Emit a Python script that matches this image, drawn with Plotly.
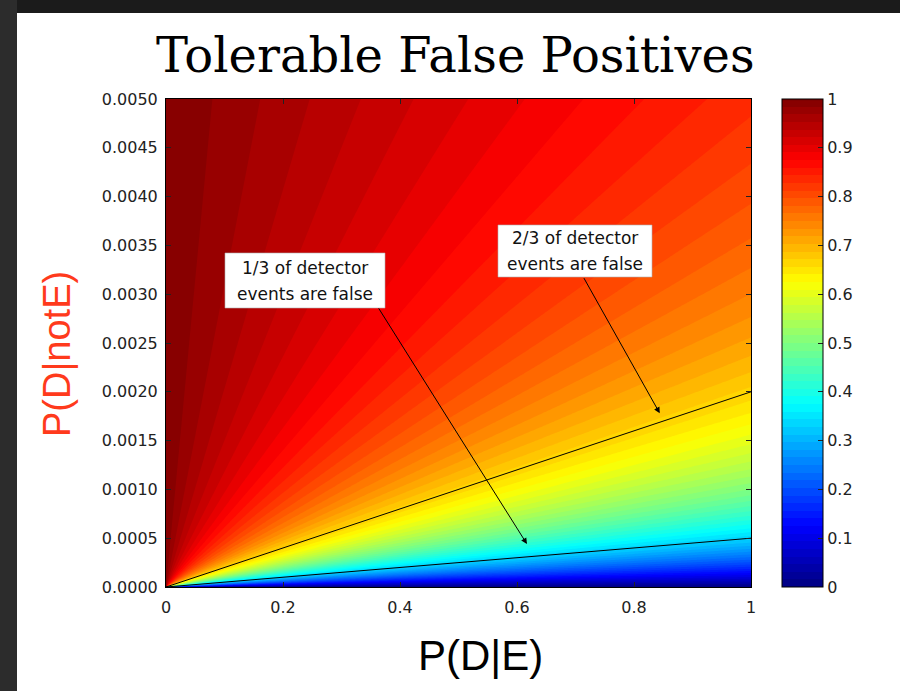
import numpy as np
import plotly.graph_objects as go

# ---- data ----
prior_E = [0.001]                       # prevalence implied by the 1/3 and 2/3 lines
x_ticks = [0, 0.2, 0.4, 0.6, 0.8, 1]
y_ticks = [0.0, 0.0005, 0.001, 0.0015, 0.002, 0.0025, 0.003, 0.0035, 0.004, 0.0045, 0.005]
cb_ticks = [0, 0.1, 0.2, 0.3, 0.4, 0.5, 0.6, 0.7, 0.8, 0.9, 1]
line_x = [0, 1]
line_two_thirds_y = [0, 0.002]
line_one_third_y = [0, 0.0005]
label_lines = [["1/3 of detector", "events are false"], ["2/3 of detector", "events are false"]]
arrow_tail = [(0.362, 0.00287), (0.713, 0.00318)]
arrow_tip = [(0.617, 0.00044), (0.844, 0.00178)]

# grid for the Bayes fraction of false detector events
pde = np.linspace(0, 1, 301)
pdn = np.linspace(0, 0.005, 301)
X, Y = np.meshgrid(pde, pdn)
p = prior_E[0]
num = Y * (1 - p)
den = num + X * p
Z = np.where(den > 0, num / np.where(den > 0, den, 1), 1.0)

jet = [[0, "#000080"], [0.125, "#0000ff"], [0.375, "#00ffff"],
       [0.625, "#ffff00"], [0.875, "#ff0000"], [1, "#800000"]]

TICKFONT = dict(family="DejaVu Sans", size=16, color="#222")

fig = go.Figure()
fig.add_trace(go.Contour(
    x=pde, y=pdn, z=Z, colorscale=jet, zmin=0, zmax=1,
    contours=dict(start=0, end=1, size=1 / 64, coloring="fill", showlines=False),
    line=dict(width=0),
    colorbar=dict(
        x=(782 - 166) / 585, xanchor="left", y=0.5, yanchor="middle", len=1,
        lenmode="fraction", thickness=41, thicknessmode="pixels", xpad=0, ypad=0,
        outlinecolor="black", outlinewidth=1,
        tickvals=cb_ticks, ticktext=[("%g" % v) for v in cb_ticks],
        ticks="inside", ticklen=5, tickcolor="#222",
        tickfont=TICKFONT,
    ),
    hoverinfo="skip",
))
fig.add_trace(go.Scatter(x=line_x, y=line_two_thirds_y, mode="lines",
                         line=dict(color="black", width=1), showlegend=False))
fig.add_trace(go.Scatter(x=line_x, y=line_one_third_y, mode="lines",
                         line=dict(color="black", width=1), showlegend=False))

W, H = 900, 691
L, R, T, B = 166, 751, 99, 587


def px2x(px):
    return (px - L) / (R - L)


def py2y(py):
    return (B - py) / (B - T)


def dx(px):
    return (px - L) / (R - L) * 1.0


def dy(py):
    return (B - py) / (B - T) * 0.005


shapes = [
    # dark slide frame
    dict(type="rect", xref="paper", yref="paper", x0=px2x(0), x1=px2x(W), y0=py2y(13), y1=py2y(0),
         fillcolor="#1b1b1b", line=dict(width=0), layer="above"),
    dict(type="rect", xref="paper", yref="paper", x0=px2x(0), x1=px2x(17), y0=py2y(H), y1=py2y(0),
         fillcolor="#2c2c2c", line=dict(width=0), layer="above"),
    # label boxes
    dict(type="rect", xref="x", yref="y", x0=dx(225), x1=dx(385), y0=dy(308), y1=dy(253),
         fillcolor="white", line=dict(width=0.6, color="#b0b0b0"), layer="above"),
    dict(type="rect", xref="x", yref="y", x0=dx(498), x1=dx(652), y0=dy(277), y1=dy(225),
         fillcolor="white", line=dict(width=0.6, color="#b0b0b0"), layer="above"),
]
# colorbar ticks on its left edge (MATLAB style both-side ticks)
for v in cb_ticks[1:-1]:
    shapes.append(dict(type="line", xref="paper", yref="paper", x0=px2x(782), x1=px2x(787),
                       y0=v, y1=v, line=dict(color="#222", width=1), layer="above"))

annotations = []
box_centers = [(305, (268, 294)), (575, (238, 264))]
for (cx, ys), lines in zip(box_centers, label_lines):
    for yy, t in zip(ys, lines):
        annotations.append(dict(x=dx(cx), y=dy(yy), xref="x", yref="y", text=t, showarrow=False,
                                font=dict(family="DejaVu Sans", size=17, color="#111"),
                                xanchor="center", yanchor="middle"))
for (tx, ty), (hx, hy) in zip(arrow_tail, arrow_tip):
    annotations.append(dict(x=hx, y=hy, ax=tx, ay=ty, xref="x", yref="y", axref="x", ayref="y",
                            text="", showarrow=True, arrowhead=2, arrowsize=1.2, arrowwidth=1,
                            arrowcolor="black"))
annotations += [
    dict(x=px2x(455), y=py2y(55), xref="paper", yref="paper", text="Tolerable False Positives",
         showarrow=False, xanchor="center", yanchor="middle",
         font=dict(family="DejaVu Serif", size=48, color="black")),
    dict(x=px2x(57), y=py2y(354), xref="paper", yref="paper", text="P(D|notE)", textangle=-90,
         showarrow=False, xanchor="center", yanchor="middle",
         font=dict(family="Liberation Sans, Arial", size=38, color="#ff3a1c")),
    dict(x=px2x(480), y=py2y(655), xref="paper", yref="paper", text="P(D|E)",
         showarrow=False, xanchor="center", yanchor="middle",
         font=dict(family="Liberation Sans, Arial", size=42, color="black")),
]

axis_common = dict(showline=True, linecolor="black", linewidth=1, mirror="ticks",
                   ticks="inside", ticklen=5, tickcolor="#222", showgrid=False, zeroline=False,
                   tickfont=TICKFONT)
fig.update_layout(
    width=W, height=H, margin=dict(l=L, r=W - R, t=T, b=H - B, autoexpand=False),
    paper_bgcolor="white", plot_bgcolor="white", showlegend=False,
    xaxis=dict(range=[0, 1], tickvals=x_ticks, ticktext=[("%g" % v) for v in x_ticks],
               ticklabelstandoff=6, **axis_common),
    yaxis=dict(range=[0, 0.005], tickvals=y_ticks, ticktext=[("%.4f" % v) for v in y_ticks],
               ticklabelstandoff=4, **axis_common),
    shapes=shapes, annotations=annotations,
)
fig.write_html("out.html", config={"displayModeBar": False})
